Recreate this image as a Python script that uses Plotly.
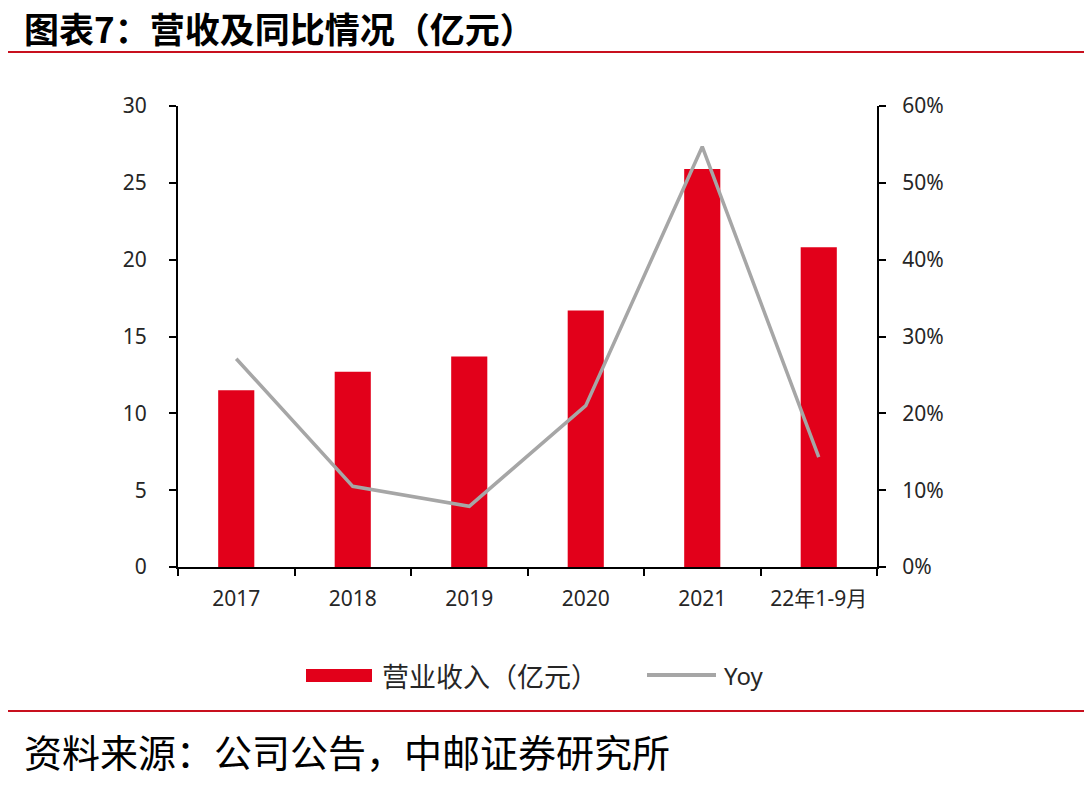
import plotly.graph_objects as go

categories = ["2017", "2018", "2019", "2020", "2021", "22年1-9月"]
revenue = [11.5, 12.7, 13.7, 16.7, 25.9, 20.8]
yoy = [0.271, 0.105, 0.079, 0.210, 0.547, 0.143]
left_ticks = [0, 5, 10, 15, 20, 25, 30]
right_ticks = [0, 0.1, 0.2, 0.3, 0.4, 0.5, 0.6]
right_labels = ["0%", "10%", "20%", "30%", "40%", "50%", "60%"]

W, H = 1084, 785
L, R, T, B = 178, 207, 106, 218
PW, PH = W - L - R, H - T - B

def px(x):
    return (x - L) / PW

def py(y):
    return (H - B - y) / PH

RED = "#E2001A"
GRAY = "#A6A6A6"
LINE_RED = "#C8101E"
TXT = "#262626"

fig = go.Figure()
fig.add_trace(go.Bar(x=categories, y=revenue, marker=dict(color=RED, line=dict(width=0)),
                     name="营业收入（亿元）", yaxis="y", showlegend=False))
fig.add_trace(go.Scatter(x=categories, y=yoy, mode="lines", line=dict(color=GRAY, width=3.5),
                         name="Yoy", yaxis="y2", showlegend=False))

tickfont = dict(family="Noto Sans, Noto Sans CJK SC", size=21, color=TXT)

fig.update_layout(
    width=W, height=H,
    margin=dict(l=L, r=R, t=T, b=B, pad=0),
    paper_bgcolor="white", plot_bgcolor="white",
    bargap=0.69,
    font=dict(family="Noto Sans CJK SC", color=TXT),
    xaxis=dict(type="category", showline=True, linecolor="black", linewidth=2,
               ticks="outside", tickson="boundaries", ticklen=7, tickwidth=2, tickcolor="black",
               tickfont=tickfont, showgrid=False, ticklabelstandoff=12, zeroline=False),
    yaxis=dict(range=[0, 30], tickvals=left_ticks, showline=True, linecolor="black", linewidth=2,
               ticks="outside", ticklen=7, tickwidth=2, tickcolor="black", showgrid=False,
               zeroline=False, tickfont=tickfont, ticklabelstandoff=18),
    yaxis2=dict(range=[0, 0.6], tickvals=right_ticks, ticktext=right_labels, overlaying="y",
                side="right", showline=True, linecolor="black", linewidth=2,
                ticks="outside", ticklen=7, tickwidth=2, tickcolor="black", showgrid=False,
                zeroline=False, tickfont=tickfont, ticklabelstandoff=12),
)

shapes = [
    dict(type="line", xref="paper", yref="paper", x0=px(8), x1=px(1084), y0=py(52), y1=py(52),
         line=dict(color=LINE_RED, width=2)),
    dict(type="line", xref="paper", yref="paper", x0=px(8), x1=px(1084), y0=py(711), y1=py(711),
         line=dict(color=LINE_RED, width=2)),
    dict(type="rect", xref="paper", yref="paper", x0=px(306), x1=px(372), y0=py(682), y1=py(669),
         fillcolor=RED, line=dict(width=0)),
    dict(type="line", xref="paper", yref="paper", x0=px(647), x1=px(716), y0=py(675), y1=py(675),
         line=dict(color=GRAY, width=4)),
]
fig.update_layout(shapes=shapes)

annotations = [
    dict(text="<b>图表7：营收及同比情况（亿元）</b>", xref="paper", yref="paper", x=px(22), y=py(28),
         xanchor="left", yanchor="middle", showarrow=False,
         font=dict(family="Noto Sans CJK SC", size=35, color="black")),
    dict(text="资料来源：公司公告，中邮证券研究所", xref="paper", yref="paper", x=px(22), y=py(750),
         xanchor="left", yanchor="middle", showarrow=False,
         font=dict(family="Noto Sans CJK SC", size=38, color="black")),
    dict(text="营业收入（亿元）", xref="paper", yref="paper", x=px(380), y=py(675),
         xanchor="left", yanchor="middle", showarrow=False,
         font=dict(family="Noto Sans CJK SC", size=27, color=TXT)),
    dict(text="Yoy", xref="paper", yref="paper", x=px(722), y=py(675),
         xanchor="left", yanchor="middle", showarrow=False,
         font=dict(family="Noto Sans, Noto Sans CJK SC", size=24, color=TXT)),
]
fig.update_layout(annotations=annotations)

fig.write_html("out.html")
